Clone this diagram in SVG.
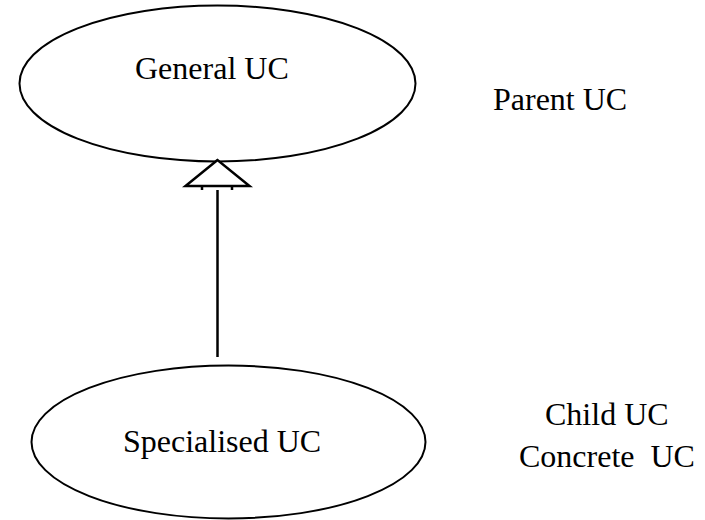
<svg xmlns="http://www.w3.org/2000/svg" width="705" height="520" viewBox="0 0 705 520">
  <style>
    .uc { fill: #ffffff; stroke: #000000; stroke-width: 2; }
    .lbl { font-family: "Liberation Serif", "Times New Roman", serif; font-size: 32px; fill: #000000; }
    .edge { fill: none; stroke: #000000; stroke-width: 2.5; }
    .head { fill: #ffffff; stroke: #000000; stroke-width: 2.5; stroke-linejoin: miter; }
  </style>
  <rect width="705" height="520" fill="#ffffff"/>

  <!-- use case: general -->
  <g id="general-uc">
    <ellipse class="uc" cx="217.5" cy="83.5" rx="198" ry="78"/>
    <text class="lbl" x="135" y="79">General UC</text>
  </g>

  <!-- use case: specialised -->
  <g id="specialised-uc">
    <ellipse class="uc" cx="228.5" cy="442" rx="197" ry="76.5"/>
    <text class="lbl" x="123" y="452">Specialised UC</text>
  </g>

  <!-- generalisation arrow: child to parent -->
  <g id="connectors">
    <line class="edge" x1="217.5" y1="357" x2="217.5" y2="190"/>
    <polygon class="head" points="217.5,160 185.5,186 249.5,186"/>
    <line class="edge" x1="202" y1="186" x2="202" y2="190"/>
    <line class="edge" x1="232" y1="186" x2="232" y2="190"/>
  </g>

  <!-- side annotations -->
  <g id="annotations">
    <text class="lbl" x="493" y="110">Parent UC</text>
    <text class="lbl" x="545" y="425">Child UC</text>
    <text class="lbl" x="519" y="467" xml:space="preserve" style="white-space: pre">Concrete  UC</text>
  </g>
</svg>
